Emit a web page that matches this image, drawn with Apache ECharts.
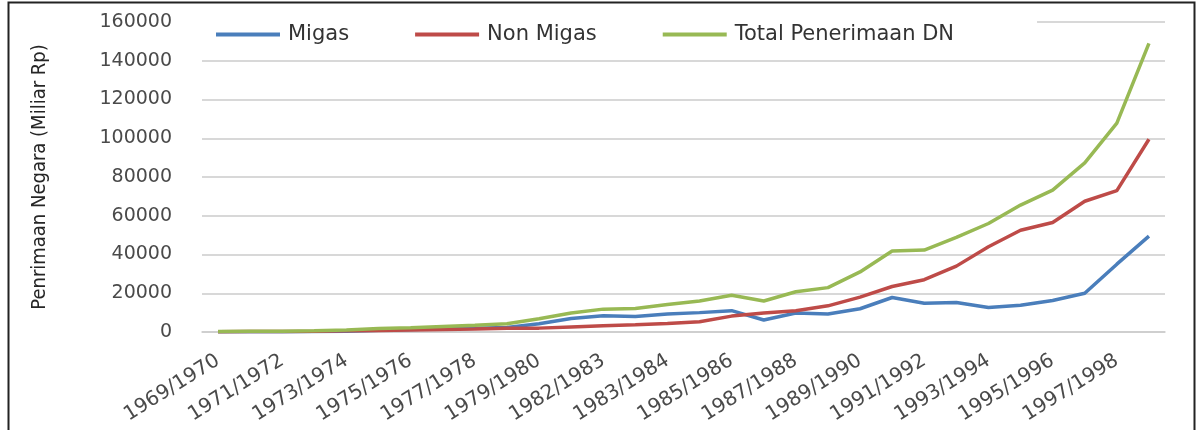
<!DOCTYPE html>
<html>
<head>
<meta charset="utf-8">
<title>Penerimaan Negara</title>
<script src="https://cdn.jsdelivr.net/npm/echarts@6.0.0/dist/echarts.min.js"></script>
<style>
  html, body { margin: 0; padding: 0; background: #fff; }
  #chart { width: 1200px; height: 430px; }
</style>
</head>
<body>
<div id="chart"></div>
<script>
// tahun anggaran (label ke-13 ditulis "1982/1983" seperti di gambar asli)
const years = [
  '1969/1970', '1970/1971', '1971/1972', '1972/1973', '1973/1974',
  '1974/1975', '1975/1976', '1976/1977', '1977/1978', '1978/1979',
  '1979/1980', '1980/1981', '1982/1983', '1982/1983', '1983/1984',
  '1984/1985', '1985/1986', '1986/1987', '1987/1988', '1988/1989',
  '1989/1990', '1990/1991', '1991/1992', '1992/1993', '1993/1994',
  '1994/1995', '1995/1996', '1996/1997', '1997/1998', '1998/1999'
]

// Miliar Rp
const migas = [
  70, 100, 140, 230, 380, 960, 1250, 1640, 1950, 2310,
  4300, 7000, 8400, 8000, 9300, 10000, 11000, 6200, 9800, 9300,
  12000, 17800, 14800, 15200, 12600, 13800, 16300, 20000, 35000, 49500
]
const nonMigas = [
  180, 250, 290, 360, 590, 790, 990, 1270, 1590, 1960,
  2000, 2600, 3200, 3700, 4400, 5300, 8200, 9800, 11000, 13500,
  18000, 23500, 27000, 34000, 44000, 52500, 56500, 67500, 73000, 99500
]
const totalDN = [
  250, 350, 430, 590, 970, 1750, 2240, 2900, 3540, 4270,
  6800, 9800, 11800, 12100, 14200, 16000, 19000, 16000, 20800, 22900,
  31000, 41800, 42300, 48800, 56000, 65500, 73200, 87300, 107800, 149000
]

const seriesNames = ['Migas', 'Non Migas', 'Total Penerimaan DN']
const seriesColors = ['#4a7ebb', '#be4b48', '#98b954']

// sumbu y
const yMin = 0
const yMax = 160000
const yStep = 20000

const textColor = '#4a4a4a'
const gridColor = '#cbcbcb'

const lineSeries = (name, data, color) => ({
  name: name,
  type: 'line',
  data: data,
  symbol: 'none',
  smooth: false,
  lineStyle: { color: color, width: 3.5 },
  itemStyle: { color: color }
})

const option = {
  animation: false,
  backgroundColor: '#fff',
  // bingkai luar
  graphic: [
    {
      type: 'rect',
      left: 6,
      top: 0,
      shape: { width: 1186, height: 445 },
      style: { fill: 'none', stroke: '#222', lineWidth: 2 },
      silent: true
    }
  ],
  legend: {
    left: 200,
    top: 20,
    padding: [4, 83, 4, 16],
    icon: 'rect',
    itemWidth: 64,
    itemHeight: 4,
    itemGap: 66,
    backgroundColor: '#fff',
    data: seriesNames,
    textStyle: {
      fontFamily: 'DejaVu Sans',
      fontSize: 21,
      color: '#333',
      padding: [0, 0, 0, 3]
    }
  },
  grid: {
    left: 202,
    right: 35,
    top: 22,
    bottom: 98,
    containLabel: false
  },
  xAxis: {
    type: 'category',
    data: years,
    boundaryGap: true,
    axisLine: { show: true, lineStyle: { color: gridColor, width: 1.5 } },
    axisTick: { show: false },
    axisLabel: {
      interval: 1,
      rotate: 32,
      margin: 27,
      fontFamily: 'DejaVu Sans',
      fontSize: 20,
      color: textColor
    }
  },
  yAxis: {
    type: 'value',
    min: yMin,
    max: yMax,
    interval: yStep,
    name: 'Penrimaan Negara (Miliar Rp)',
    nameLocation: 'middle',
    nameGap: 152,
    nameTextStyle: {
      fontFamily: '"Liberation Sans Narrow", "DejaVu Sans Condensed", "Noto Sans"',
      fontSize: 20,
      color: '#262626'
    },
    axisLine: { show: false },
    axisTick: { show: false },
    splitLine: { lineStyle: { color: gridColor, width: 1.5 } },
    axisLabel: {
      margin: 30,
      fontFamily: 'DejaVu Sans',
      fontSize: 19,
      color: textColor,
      formatter: (v) => String(v)
    }
  },
  series: [
    lineSeries(seriesNames[0], migas, seriesColors[0]),
    lineSeries(seriesNames[1], nonMigas, seriesColors[1]),
    lineSeries(seriesNames[2], totalDN, seriesColors[2])
  ]
}

const myChart = echarts.init(document.getElementById('chart'), null, { renderer: 'canvas' })
myChart.setOption(option)
</script>
</body>
</html>
